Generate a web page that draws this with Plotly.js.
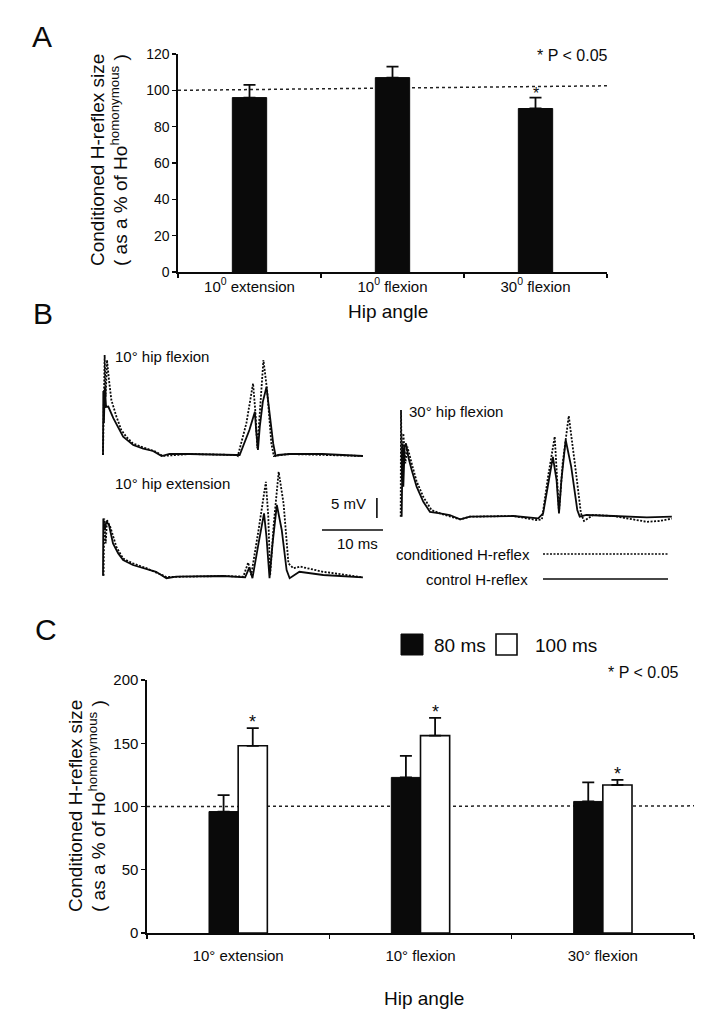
<!DOCTYPE html>
<html><head><meta charset="utf-8">
<script src="https://cdn.plot.ly/plotly-3.0.1.min.js"></script>
<style>html,body{margin:0;padding:0;background:#fff}</style>
</head><body><div id="chart" style="width:717px;height:1035px"></div>
<script>
// ---------- Panel A data ----------
const catsA = ['10<sup>0</sup> extension', '10<sup>0</sup> flexion', '30<sup>0</sup> flexion'];
const condA = [96, 107, 90];
const semA = [7, 6, 6];
const sigA = [false, false, true];
const yTicksA = [0, 20, 40, 60, 80, 100, 120];

// ---------- Panel B data (time in ms, amplitude in mV) ----------
const flex10CtrlT = [0, 0.05, 0.15, 0.3, 0.5, 0.87, 1.69, 2.5, 3.3, 4.95, 6.6, 8.2, 9.6, 10.9, 14.2, 21.8, 22.4, 24.0, 24.9, 25.1, 25.4, 25.7, 26.2, 26.8, 27.3, 27.9, 28.3, 28.7, 30.6, 36, 42.6];
const flex10CtrlV = [0, 16, 8, 17, 12, 12.1, 9.2, 6.7, 4.6, 2.5, 1.6, 1.0, -0.25, 0.25, 0.25, 0, 0, 6.25, 10.8, 6.25, 1.25, 7, 13.3, 17, 11, 2.9, -0.25, 0, 0.25, 0.25, -0.25];
const flex10CondT = [0, 0.27, 0.44, 0.66, 0.98, 1.37, 2.2, 3.0, 3.8, 4.9, 6.6, 8.7, 9.8, 14.2, 21.9, 22.1, 23.5, 24.6, 25.0, 25.3, 25.7, 26.3, 26.9, 27.6, 28.0, 30.6, 42.6];
const flex10CondV = [0, 25, 14.6, 23.75, 18.75, 13.75, 9.6, 6.25, 4.6, 2.9, 1.9, 0.8, -0.25, 0.25, 0, -0.25, 7.9, 17.9, 10.4, 1.7, 10.4, 23.75, 16.25, 2.9, -0.25, 0.25, -0.25];

const ext10CtrlT = [0, 0.05, 0.3, 0.55, 0.98, 1.64, 2.5, 3.3, 4.9, 6.6, 8.7, 10.4, 12.0, 19.7, 23.3, 24.0, 24.5, 25.5, 26.4, 26.8, 27.3, 27.8, 28.5, 29.3, 30.1, 30.6, 32.2, 36.1, 42.6];
const ext10CtrlV = [0.3, 14.6, 11.75, 13.9, 13, 8.4, 5.9, 4.25, 3, 2.17, 1.3, -0.3, 0.08, 0.25, -0.1, 2.4, -0.3, 8.4, 15.9, 10, -0.3, 8.4, 18, 11.75, 1.75, -0.3, 1.3, 0.5, -0.1];
const ext10CondT = [0.1, 0.2, 0.44, 0.66, 1.2, 2.2, 3.3, 4.9, 7.1, 10.4, 19.7, 23.0, 23.8, 24.3, 25.5, 26.7, 27.1, 27.4, 28.0, 28.8, 29.6, 30.4, 31.2, 32.3, 36.1, 40.5, 42.6];
const ext10CondV = [0.3, 14.6, 8.4, 14.2, 12.5, 7.5, 4.6, 3.4, 2.2, 0, 0.25, 0.1, 3.6, 0.5, 11.75, 23.8, 15, 0.5, 13.4, 26.3, 18.4, 3.4, 2.2, 2.6, 1.3, 0.25, -0.1];

const flex30CtrlT = [0.11, 0.27, 0.38, 0.6, 0.82, 1.2, 1.75, 2.56, 3.66, 4.75, 6.4, 8.0, 9.7, 11.3, 18.4, 22.5, 23.3, 24.1, 24.9, 25.5, 25.9, 26.3, 27.0, 27.9, 28.9, 29.3, 30.4, 34.8, 40.3, 44.4];
const flex30CtrlV = [0.08, 18.4, 7.6, 17.6, 18.4, 15, 11.75, 7.6, 3.8, 1.3, 0.9, 0.5, -0.6, 0.08, 0.25, -0.33, 0.9, 7.6, 15, 9.25, 0.9, 9.25, 19.25, 12.6, 1.75, 0.08, 0.5, 0.25, -0.1, 0.08];
const flex30CondT = [-0.05, 0, 0.16, 0.38, 0.71, 1.04, 1.75, 2.56, 3.66, 5.0, 6.4, 9.7, 11.3, 18.4, 22.2, 23.1, 24.1, 25.2, 25.6, 25.9, 26.5, 27.5, 28.5, 29.5, 30.0, 31.5, 34.8, 40.3, 42.4, 44.4];
const flex30CondV = [0.08, 26.75, 9.25, 20.9, 13.4, 17.6, 13.4, 8.9, 5, 1.75, 0.9, -0.6, 0.08, 0.25, -0.75, -0.6, 10, 20.1, 9.25, 1.3, 13.4, 25.25, 13.4, 0.9, -1, 0.5, 0.25, -1.2, -1, -0.4];

const scaleBarMs = 10;
const scaleBarMv = 5;

// ---------- Panel C data ----------
const catsC = ['10° extension', '10° flexion', '30° flexion'];
const cond80 = [96, 123, 104];
const sem80 = [13, 17, 15];
const cond100 = [148, 156, 117];
const sem100 = [14, 14, 4];
const sig100 = [true, true, true];
const yTicksC = [0, 50, 100, 150, 200];

// ---------- helpers ----------
const W = 717, H = 1035;
const px = x => x / W;
const py = y => 1 - y / H;
const FONT = 'Liberation Sans, Arial, sans-serif';
const INK = '#0a0a0a';
const zeros = n => new Array(n).fill(0);

// Panel B: pixel scale of the recordings
const PX_PER_MS = 6.1, PX_PER_MV = 4;
function bAxes(originX, baseY, left, right, top, bottom) {
  return [
    {domain: [px(left), px(right)], range: [(left - originX) / PX_PER_MS, (right - originX) / PX_PER_MS], visible: false, fixedrange: true},
    {domain: [py(bottom), py(top)], range: [(baseY - bottom) / PX_PER_MV, (baseY - top) / PX_PER_MV], visible: false, fixedrange: true}
  ];
}
const [bx1, by1] = bAxes(103, 455, 95, 395, 340, 470);
const [bx2, by2] = bAxes(103, 577, 95, 395, 460, 590);
const [bx3, by3] = bAxes(401, 517, 392, 690, 395, 530);

const ctrlLine = {color: INK, width: 1.8};
const condLine = {color: INK, width: 1.8, dash: '2px,1.5px'};

const errStyle = (arr) => ({type: 'data', symmetric: false, array: arr, arrayminus: zeros(arr.length), color: INK, thickness: 1.8, width: 6});

const traces = [
  // Panel A
  {type: 'bar', x: catsA, y: condA, xaxis: 'x', yaxis: 'y', width: 0.24,
   marker: {color: INK, line: {color: INK, width: 1}}, error_y: errStyle(semA), showlegend: false, hoverinfo: 'skip'},
  // Panel B
  {type: 'scatter', mode: 'lines', x: flex10CtrlT, y: flex10CtrlV, xaxis: 'x3', yaxis: 'y3', line: ctrlLine, showlegend: false},
  {type: 'scatter', mode: 'lines', x: flex10CondT, y: flex10CondV, xaxis: 'x3', yaxis: 'y3', line: condLine, showlegend: false},
  {type: 'scatter', mode: 'lines', x: ext10CtrlT, y: ext10CtrlV, xaxis: 'x4', yaxis: 'y4', line: ctrlLine, showlegend: false},
  {type: 'scatter', mode: 'lines', x: ext10CondT, y: ext10CondV, xaxis: 'x4', yaxis: 'y4', line: condLine, showlegend: false},
  {type: 'scatter', mode: 'lines', x: flex30CtrlT, y: flex30CtrlV, xaxis: 'x5', yaxis: 'y5', line: ctrlLine, showlegend: false},
  {type: 'scatter', mode: 'lines', x: flex30CondT, y: flex30CondV, xaxis: 'x5', yaxis: 'y5', line: condLine, showlegend: false},
  // Panel C
  {type: 'bar', name: '80 ms', x: catsC, y: cond80, xaxis: 'x2', yaxis: 'y2',
   marker: {color: INK, line: {color: INK, width: 1}}, error_y: errStyle(sem80), showlegend: false, hoverinfo: 'skip'},
  {type: 'bar', name: '100 ms', x: catsC, y: cond100, xaxis: 'x2', yaxis: 'y2',
   marker: {color: '#fff', line: {color: INK, width: 1.6}}, error_y: errStyle(sem100), showlegend: false, hoverinfo: 'skip'}
];

const BARGAP = 0.68;
const axisCommon = {showline: true, linecolor: INK, linewidth: 1.6, ticks: 'outside', tickcolor: INK, ticklen: 4, tickwidth: 1.2,
  showgrid: false, zeroline: false, fixedrange: true, tickfont: {family: FONT, size: 14, color: INK}};

const layout = {
  width: W, height: H, margin: {l: 0, r: 0, t: 0, b: 0},
  paper_bgcolor: '#fff', plot_bgcolor: 'rgba(0,0,0,0)',
  barmode: 'group', bargap: BARGAP, bargroupgap: 0, showlegend: false,
  font: {family: FONT, color: INK},
  xaxis: Object.assign({}, axisCommon, {domain: [px(178), px(607)], anchor: 'y', type: 'category', range: [-0.5, 2.5], tickson: 'boundaries',
    tickfont: {family: FONT, size: 15, color: INK}}),
  yaxis: Object.assign({}, axisCommon, {domain: [py(272), py(54)], anchor: 'x', range: [0, 120], tickvals: yTicksA}),
  xaxis2: Object.assign({}, axisCommon, {domain: [px(147), px(694)], anchor: 'y2', type: 'category', range: [-0.5, 2.5], tickson: 'boundaries',
    ticklabelstandoff: 8, tickfont: {family: FONT, size: 15, color: INK}}),
  yaxis2: Object.assign({}, axisCommon, {domain: [py(933), py(680)], anchor: 'x2', range: [0, 200], tickvals: yTicksC,
    tickfont: {family: FONT, size: 15, color: INK}}),
  xaxis3: Object.assign({anchor: 'y3'}, bx1), yaxis3: Object.assign({anchor: 'x3'}, by1),
  xaxis4: Object.assign({anchor: 'y4'}, bx2), yaxis4: Object.assign({anchor: 'x4'}, by2),
  xaxis5: Object.assign({anchor: 'y5'}, bx3), yaxis5: Object.assign({anchor: 'x5'}, by3),
  shapes: [], annotations: []
};

// reference lines at 100 %
layout.shapes.push({type: 'line', xref: 'x domain', yref: 'y', x0: 0, x1: 1.0, y0: 100, y1: 102.5, layer: 'below',
  line: {color: '#222', width: 1.5, dash: 'dot'}});
layout.shapes.push({type: 'line', xref: 'x2 domain', yref: 'y2', x0: 0, x1: 1.0, y0: 100, y1: 100.5, layer: 'below',
  line: {color: '#222', width: 1.5, dash: 'dot'}});

// scale bars (panel B, in the 10° extension recording's units)
const sbT = 35.9, sbV = 11.75;
layout.shapes.push({type: 'line', xref: 'x4', yref: 'y4', x0: sbT, x1: sbT + scaleBarMs, y0: sbV, y1: sbV, line: {color: INK, width: 1.6}});
layout.shapes.push({type: 'line', xref: 'x4', yref: 'y4', x0: sbT + scaleBarMs - 1, x1: sbT + scaleBarMs - 1, y0: sbV + 3, y1: sbV + 3 + scaleBarMv, line: {color: INK, width: 1.6}});

// panel B legend lines
layout.shapes.push({type: 'line', xref: 'paper', yref: 'paper', x0: px(543), x1: px(668), y0: py(554), y1: py(554), line: {color: INK, width: 1.6, dash: '2px,1.5px'}});
layout.shapes.push({type: 'line', xref: 'paper', yref: 'paper', x0: px(543), x1: px(668), y0: py(579), y1: py(579), line: {color: INK, width: 1.4}});

// panel C legend boxes
layout.shapes.push({type: 'rect', xref: 'paper', yref: 'paper', x0: px(401), x1: px(423), y0: py(655), y1: py(634), fillcolor: INK, line: {color: INK, width: 1}});
layout.shapes.push({type: 'rect', xref: 'paper', yref: 'paper', x0: px(496), x1: px(517), y0: py(655), y1: py(634), fillcolor: '#fff', line: {color: INK, width: 1.6}});

function txt(text, x, y, size, opts) {
  layout.annotations.push(Object.assign({text: text, xref: 'paper', yref: 'paper', x: px(x), y: py(y), showarrow: false,
    xanchor: 'center', yanchor: 'middle', font: {family: FONT, size: size, color: INK}}, opts || {}));
}

// panel letters
txt('A', 42, 36, 30);
txt('B', 43, 313, 30);
txt('C', 46, 629, 30);

// Panel A texts
txt('* P &lt; 0.05', 610, 55, 16, {xanchor: 'right'});
txt('Conditioned H-reflex size', 97, 268, 19, {textangle: -90, yanchor: 'bottom'});
txt('( as a % of Ho<sup>homonymous</sup> )', 119, 268, 19, {textangle: -90, yanchor: 'bottom'});
txt('Hip angle', 388, 311, 19);
catsA.forEach((c, i) => {
  if (sigA[i]) layout.annotations.push({text: '*', xref: 'x', yref: 'y', x: c, y: condA[i] + semA[i], yanchor: 'bottom', yshift: -6,
    showarrow: false, font: {family: FONT, size: 16, color: INK}});
});

// Panel B texts
txt('10° hip flexion', 113, 356, 15, {xanchor: 'left'});
txt('10° hip extension', 113, 483, 15, {xanchor: 'left'});
txt('30° hip flexion', 407, 412, 15, {xanchor: 'left'});
txt('5 mV', 368, 503, 15, {xanchor: 'right'});
txt('10 ms', 357, 543, 15);
txt('conditioned H-reflex', 532, 554, 15, {xanchor: 'right'});
txt('control H-reflex', 530, 579, 15, {xanchor: 'right'});

// Panel C texts
txt('80 ms', 432, 645, 19, {xanchor: 'left'});
txt('100 ms', 533, 645, 19, {xanchor: 'left'});
txt('* P &lt; 0.05', 681, 672, 16, {xanchor: 'right'});
txt('Conditioned H-reflex size', 75, 914, 19, {textangle: -90, yanchor: 'bottom'});
txt('( as a % of Ho<sup>homonymous</sup> )', 97, 914, 19, {textangle: -90, yanchor: 'bottom'});
txt('Hip angle', 424, 998, 19);
const catWC = (694 - 147) / 3;
const offC = catWC * (1 - BARGAP) / 4;
catsC.forEach((c, i) => {
  if (sig100[i]) layout.annotations.push({text: '*', xref: 'x2', yref: 'y2', x: c, y: cond100[i] + sem100[i], xshift: offC, yanchor: 'bottom', yshift: -6,
    showarrow: false, font: {family: FONT, size: 18, color: INK}});
});

Plotly.newPlot('chart', traces, layout, {displayModeBar: false, staticPlot: true});
</script>
</body></html>
